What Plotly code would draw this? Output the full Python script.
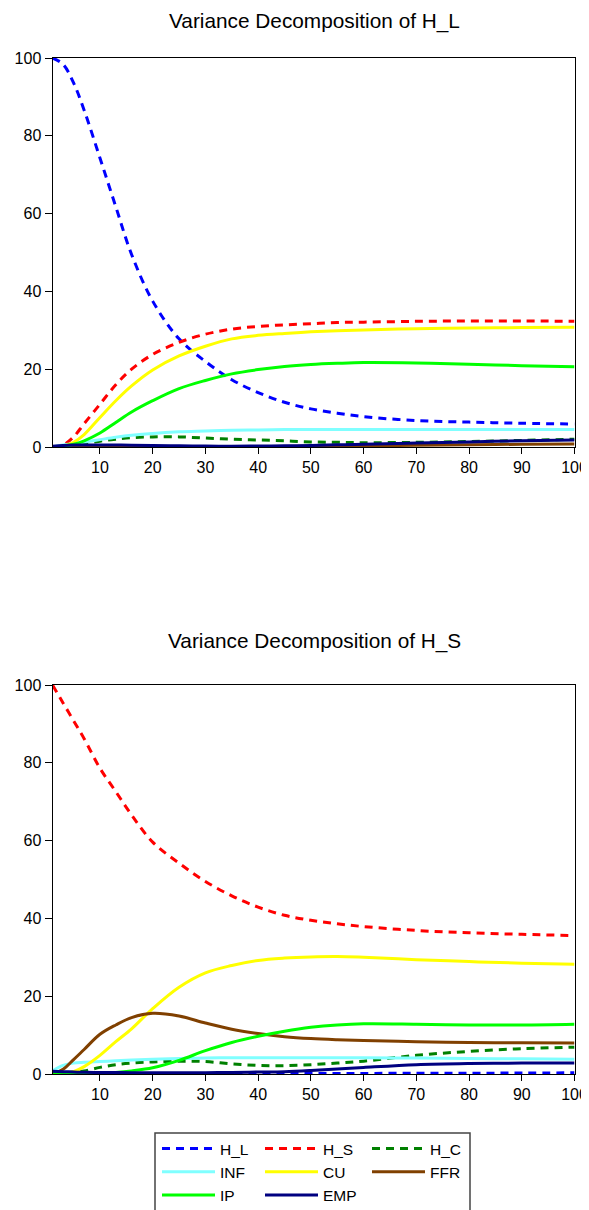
import plotly.graph_objects as go

# page body adds an 8px margin, so the figure is drawn 8px in from the window corner
OFF = 8
W, H = 589 - OFF, 1210 - OFF

# ---------------- data ----------------
periods = [1, 3, 5, 7, 10, 13, 16, 20, 25, 30, 35, 40, 45, 50, 55, 60, 70, 80, 90, 100]
series_names = ["H_L", "H_S", "H_C", "INF", "CU", "FFR", "IP", "EMP"]
x_ticks = [10, 20, 30, 40, 50, 60, 70, 80, 90, 100]
y_ticks = [0, 20, 40, 60, 80, 100]

# Variance Decomposition of H_L
hl_H_L = [100, 98.4, 93.6, 86.6, 74.3, 61.8, 49.5, 37.5, 27.8, 22.0, 17.3, 14.0, 11.5, 9.8, 8.7, 7.8, 6.8, 6.4, 6.1, 5.9]
hl_H_S = [0, 0.5, 2.6, 6.0, 11.0, 16.0, 20.0, 23.8, 26.9, 29.0, 30.3, 31.0, 31.4, 31.7, 32.0, 32.1, 32.3, 32.4, 32.4, 32.3]
hl_H_C = [0, 0.2, 0.5, 0.9, 1.5, 2.0, 2.4, 2.6, 2.6, 2.3, 2.0, 1.8, 1.6, 1.3, 1.2, 1.1, 1.2, 1.4, 1.7, 2.0]
hl_INF = [0, 0.5, 0.9, 1.3, 1.9, 2.5, 3.0, 3.5, 3.9, 4.1, 4.3, 4.4, 4.5, 4.5, 4.5, 4.5, 4.5, 4.5, 4.5, 4.5]
hl_CU = [0, 0.2, 1.2, 3.2, 7.6, 11.9, 15.7, 19.8, 23.4, 25.9, 27.8, 28.7, 29.2, 29.6, 29.9, 30.1, 30.4, 30.6, 30.7, 30.8]
hl_FFR = [0, 0.05, 0.1, 0.1, 0.1, 0.1, 0.1, 0.1, 0.1, 0.1, 0.1, 0.1, 0.15, 0.2, 0.25, 0.3, 0.45, 0.6, 0.7, 0.8]
hl_IP = [0, 0.2, 0.7, 1.6, 3.6, 6.3, 9.0, 11.9, 15.0, 17.1, 18.8, 19.9, 20.7, 21.2, 21.5, 21.7, 21.6, 21.3, 20.9, 20.6]
hl_EMP = [0.2, 0.4, 0.5, 0.5, 0.5, 0.5, 0.45, 0.4, 0.3, 0.25, 0.2, 0.25, 0.3, 0.4, 0.55, 0.7, 1.0, 1.3, 1.6, 1.8]

# Variance Decomposition of H_S
hs_H_L = [0, 0.05, 0.1, 0.1, 0.1, 0.1, 0.1, 0.1, 0.1, 0.1, 0.1, 0.1, 0.1, 0.1, 0.15, 0.15, 0.2, 0.2, 0.25, 0.3]
hs_H_S = [100, 95.4, 90.8, 86.2, 78.6, 72.6, 66.6, 59.6, 54.2, 49.5, 45.8, 42.9, 40.8, 39.5, 38.6, 37.9, 36.9, 36.3, 35.9, 35.6]
hs_H_C = [0, 0.2, 0.5, 0.8, 1.7, 2.4, 2.8, 3.1, 3.3, 3.2, 2.6, 2.2, 2.15, 2.4, 2.8, 3.3, 4.8, 5.8, 6.5, 6.9]
hs_INF = [0.8, 2.2, 2.8, 3.0, 3.2, 3.4, 3.6, 3.8, 4.0, 4.1, 4.2, 4.2, 4.2, 4.2, 4.2, 4.2, 4.1, 4.0, 3.9, 3.8]
hs_CU = [0, 0.1, 0.6, 1.9, 4.8, 8.3, 11.6, 16.8, 22.3, 26.0, 27.9, 29.2, 29.8, 30.1, 30.2, 30.0, 29.4, 28.9, 28.5, 28.2]
hs_FFR = [0, 1.2, 3.7, 6.3, 10.2, 12.6, 14.5, 15.6, 14.9, 13.1, 11.5, 10.4, 9.6, 9.1, 8.8, 8.6, 8.3, 8.1, 8.05, 8.0]
hs_IP = [0, 0, 0, 0.05, 0.2, 0.4, 0.8, 1.6, 3.5, 6.0, 8.1, 9.7, 11.0, 12.0, 12.6, 12.9, 12.8, 12.6, 12.6, 12.8]
hs_EMP = [0.7, 0.6, 0.5, 0.45, 0.4, 0.4, 0.35, 0.35, 0.35, 0.35, 0.4, 0.5, 0.6, 0.9, 1.3, 1.7, 2.4, 2.7, 2.8, 2.8]

titles = ["Variance Decomposition of H_L", "Variance Decomposition of H_S"]
panel_data = [
    [hl_H_L, hl_H_S, hl_H_C, hl_INF, hl_CU, hl_FFR, hl_IP, hl_EMP],
    [hs_H_L, hs_H_S, hs_H_C, hs_INF, hs_CU, hs_FFR, hs_IP, hs_EMP],
]

# ---------------- styles ----------------
colors = {"H_L": "#0000FF", "H_S": "#FF0000", "H_C": "#008000", "INF": "#80FFFF",
          "CU": "#FFFF00", "FFR": "#804000", "IP": "#00FF00", "EMP": "#000080"}
dashed = {"H_L", "H_S", "H_C"}
legend_of = {"H_L": "legend", "INF": "legend", "IP": "legend",
             "H_S": "legend2", "CU": "legend2", "EMP": "legend2",
             "H_C": "legend3", "FFR": "legend3"}
FONT = "Liberation Sans, Arial, sans-serif"


def px_x(p):
    return (p - OFF) / W


def px_y(p):
    return 1 - (p - OFF) / H


x_dom = [px_x(52.5), px_x(574.5)]
y_doms = [[px_y(447), px_y(58)], [px_y(1074), px_y(685)]]
title_y = [21, 641]

fig = go.Figure()

for k, vals in enumerate(panel_data):
    xa = "x" if k == 0 else "x2"
    ya = "y" if k == 0 else "y2"
    for name, v in zip(series_names, vals):
        fig.add_trace(go.Scatter(
            x=periods, y=v, mode="lines", name=name,
            xaxis=xa, yaxis=ya,
            line=dict(color=colors[name], width=3, shape="spline", smoothing=1.0,
                      dash="8px,6px" if name in dashed else "solid"),
            showlegend=(k == 1), legend=legend_of[name],
            hoverinfo="skip",
        ))

axis_common = dict(showline=True, linecolor="black", linewidth=1, mirror=True,
                   showgrid=False, zeroline=False, ticks="outside", tickcolor="black",
                   automargin=False,
                   tickfont=dict(family=FONT, size=16, color="black"))

layout = dict(
    template="none",
    width=W, height=H, autosize=False,
    margin=dict(l=0, r=0, t=0, b=0, pad=0, autoexpand=False),
    paper_bgcolor="white", plot_bgcolor="white",
    font=dict(family=FONT, size=16, color="black"),
)
for k in range(2):
    sfx = "" if k == 0 else "2"
    layout["xaxis" + sfx] = dict(axis_common, domain=x_dom, range=[1, 100], tickvals=x_ticks,
                                 ticklen=6, anchor="y" + sfx)
    layout["yaxis" + sfx] = dict(axis_common, domain=y_doms[k], range=[0, 100], tickvals=y_ticks,
                                 ticklen=7, anchor="x" + sfx)

leg_common = dict(orientation="v", bgcolor="rgba(0,0,0,0)", borderwidth=0,
                  font=dict(family=FONT, size=15.5, color="black"),
                  itemwidth=53, xanchor="left", yanchor="top", tracegroupgap=0)
layout["legend"] = dict(leg_common, x=px_x(157), y=px_y(1132))
layout["legend2"] = dict(leg_common, x=px_x(260), y=px_y(1132))
layout["legend3"] = dict(leg_common, x=px_x(367), y=px_y(1132))

fig.update_layout(**layout)

for k in range(2):
    fig.add_annotation(text=titles[k], x=px_x(314), y=px_y(title_y[k]), xref="paper", yref="paper",
                       xanchor="center", yanchor="middle", showarrow=False,
                       font=dict(family=FONT, size=20.8, color="black"))

fig.add_shape(type="rect", xref="paper", yref="paper",
              x0=px_x(155), x1=px_x(470), y0=px_y(1133), y1=px_y(1230),
              line=dict(color="#444444", width=1.5), fillcolor="rgba(0,0,0,0)", layer="below")

fig.write_html("out.html")
